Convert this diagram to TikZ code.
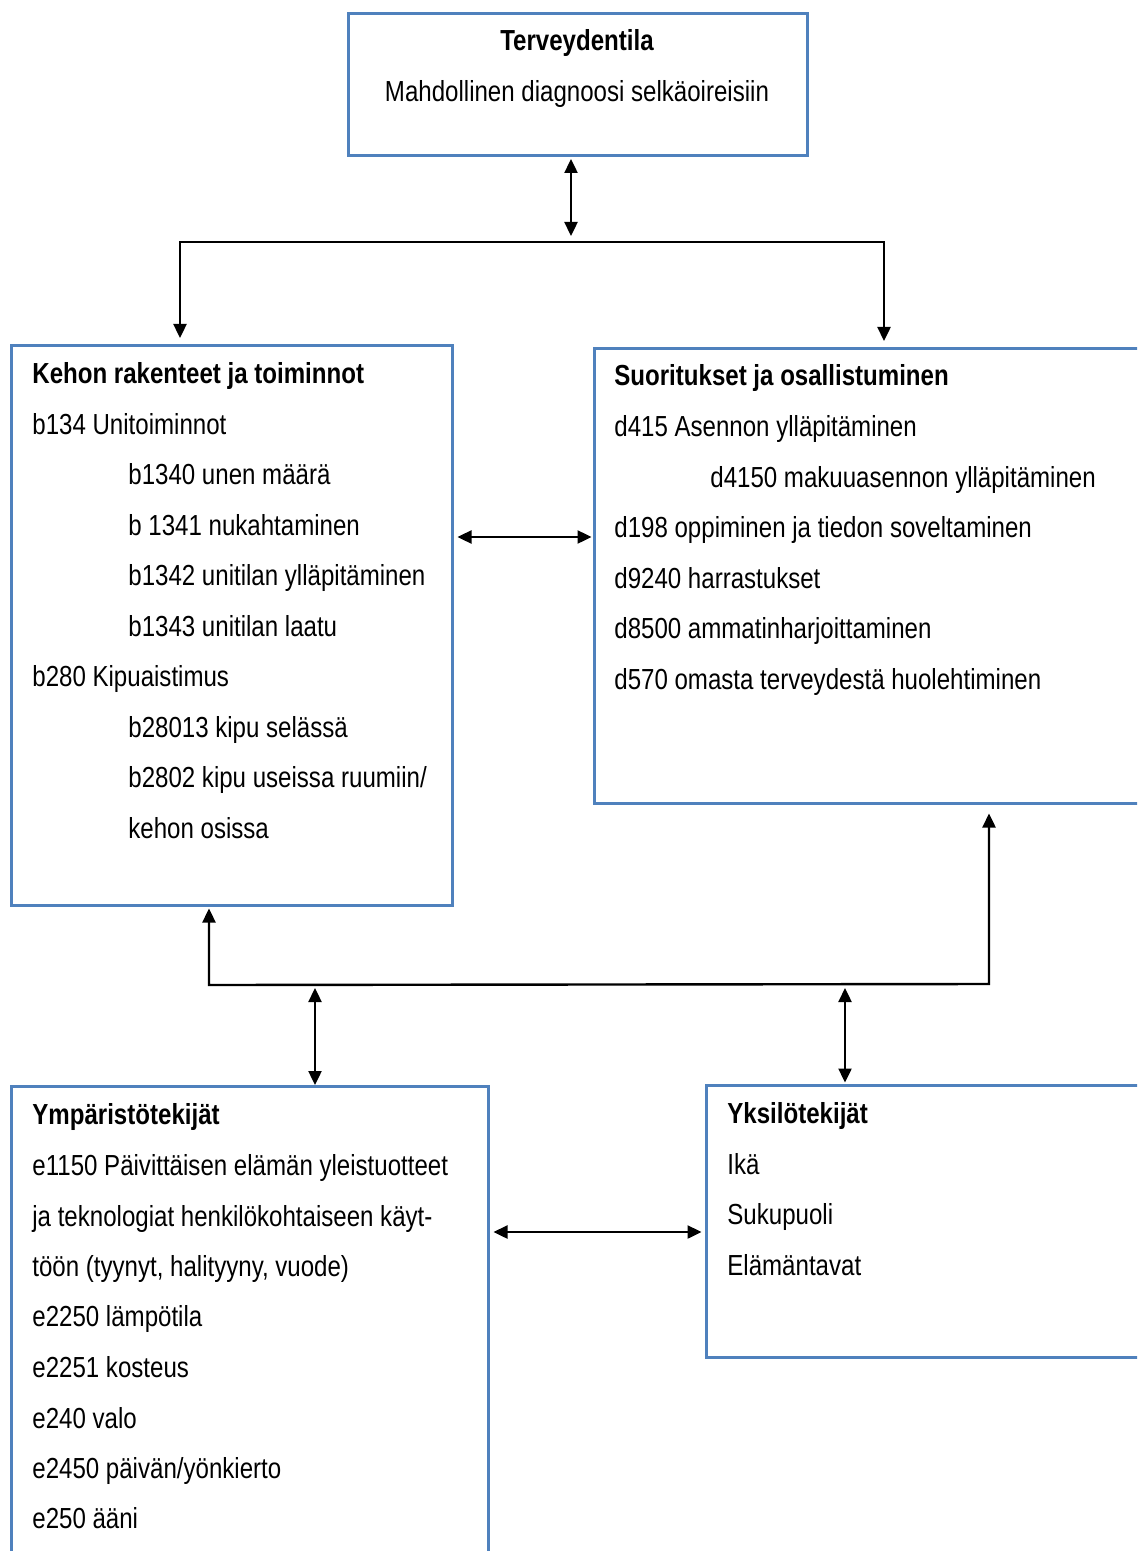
\documentclass[tikz,border=0pt]{standalone}
\usepackage{fontspec}
\setmainfont{Liberation Sans}[FakeStretch=0.83]
\usepackage{xcolor}
\usetikzlibrary{positioning,calc,arrows.meta}
\definecolor{boxblue}{HTML}{4F81BD}

\begin{document}
\begin{tikzpicture}[x=0.5pt, y=-0.5pt,
    box/.style={draw=boxblue, line width=1.5pt, anchor=north west, inner sep=0pt},
    txt/.style={anchor=base west, inner sep=0pt, font=\fontsize{14.5}{17}\selectfont},
    hd/.style={txt, font=\fontsize{14.5}{17}\selectfont\bfseries},
    link/.style={line width=1.2pt},
    arr/.style={link, -{Triangle[length=7pt,width=6.5pt]}},
    dbl/.style={link, {Triangle[length=7pt,width=6.5pt]}-{Triangle[length=7pt,width=6.5pt]}}]

    \useasboundingbox (0,0) rectangle (1137,1551);
    \clip (0,0) rectangle (1137,1551);

    % Boxes
    \node[box, minimum width=229.5pt, minimum height=71pt] (health) at (347,12) {};
    \node[box, minimum width=220.5pt, minimum height=280pt] (body) at (10,344) {};
    \node[box, minimum width=278.5pt, minimum height=227.5pt] (activity) at (593,347) {};
    \node[box, minimum width=238.5pt, minimum height=240pt] (environment) at (10,1085) {};
    \node[box, minimum width=222.5pt, minimum height=136pt] (personal) at (705,1084) {};

    % Terveydentila
    \node[hd, anchor=base] (healthtitle) at (577,51) {Terveydentila};
    \node[txt, anchor=base] (healthdiag) at (577,102) {Mahdollinen diagnoosi selkäoireisiin};

    % Kehon rakenteet ja toiminnot
    \node[hd] (bodytitle) at (32,383) {Kehon rakenteet ja toiminnot};
    \node[txt] (b134) at (32,434) {b134 Unitoiminnot};
    \node[txt] (b1340) at (128,484) {b1340 unen määrä};
    \node[txt] (b1341) at (128,535) {b 1341 nukahtaminen};
    \node[txt] (b1342) at (128,585) {b1342 unitilan ylläpitäminen};
    \node[txt] (b1343) at (128,636) {b1343 unitilan laatu};
    \node[txt] (b280) at (32,686) {b280 Kipuaistimus};
    \node[txt] (b28013) at (128,737) {b28013 kipu selässä};
    \node[txt] (b2802) at (128,787) {b2802 kipu useissa ruumiin/};
    \node[txt] (b2802b) at (128,838) {kehon osissa};

    % Suoritukset ja osallistuminen
    \node[hd] (acttitle) at (614,386) {Suoritukset ja osallistuminen};
    \node[txt] (d415) at (614,436) {d415 Asennon ylläpitäminen};
    \node[txt] (d4150) at (710,487) {d4150 makuuasennon ylläpitäminen};
    \node[txt] (d198) at (614,537) {d198 oppiminen ja tiedon soveltaminen};
    \node[txt] (d9240) at (614,588) {d9240 harrastukset};
    \node[txt] (d8500) at (614,638) {d8500 ammatinharjoittaminen};
    \node[txt] (d570) at (614,689) {d570 omasta terveydestä huolehtiminen};

    % Ympäristötekijät
    \node[hd] (envtitle) at (32,1124) {Ympäristötekijät};
    \node[txt] (e1150) at (32,1175) {e1150 Päivittäisen elämän yleistuotteet};
    \node[txt] (e1150b) at (32,1226) {ja teknologiat henkilökohtaiseen käyt-};
    \node[txt] (e1150c) at (32,1276) {töön (tyynyt, halityyny, vuode)};
    \node[txt] (e2250) at (32,1326) {e2250 lämpötila};
    \node[txt] (e2251) at (32,1377) {e2251 kosteus};
    \node[txt] (e240) at (32,1428) {e240 valo};
    \node[txt] (e2450) at (32,1478) {e2450 päivän/yönkierto};
    \node[txt] (e250) at (32,1528) {e250 ääni};

    % Yksilötekijät
    \node[hd] (perstitle) at (727,1123) {Yksilötekijät};
    \node[txt] (age) at (727,1174) {Ikä};
    \node[txt] (sex) at (727,1224) {Sukupuoli};
    \node[txt] (life) at (727,1275) {Elämäntavat};

    % Connectors
    \coordinate (split) at (571,242);
    \coordinate (mid) at (0,537);
    \coordinate (lowL) at (209,985);
    \coordinate (lowR) at (989,984);
    \coordinate (envtap) at (315,988);
    \coordinate (perstap) at (845,988);
    \coordinate (low) at (0,1232);

    \draw[dbl] ([yshift=-1pt]health.south -| split) -- ([yshift=3pt]split);
    \draw[arr] (split) -| ($(body.north west)+(170,-6)$);
    \draw[arr] (split) -| ($(activity.north west)+(291,-6)$);
    \draw[dbl] ([xshift=1.75pt]body.east |- mid) -- ([xshift=-0.75pt]activity.west |- mid);
    \draw[dbl] ([yshift=-0.75pt]body.south -| lowL) -- (lowL) -- (lowR) -- ([yshift=-4.25pt]activity.south -| lowR);
    \draw[dbl] (envtap) -- (environment.north -| envtap);
    \draw[dbl] (perstap) -- ([yshift=0.75pt]personal.north -| perstap);
    \draw[dbl] ([xshift=1.75pt]environment.east |- low) -- ([xshift=-1.75pt]personal.west |- low);
\end{tikzpicture}
\end{document}
